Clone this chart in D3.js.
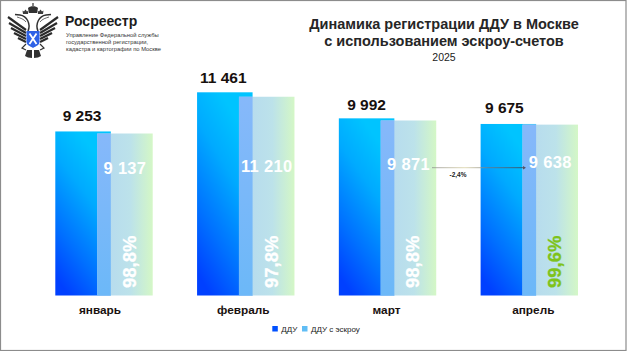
<!DOCTYPE html>
<html>
<head>
<meta charset="utf-8">
<script src="https://d3js.org/d3.v7.min.js"></script>
<style>
	html, body { margin: 0; padding: 0; background: #fff; }
	svg { display: block; font-family: 'Liberation Sans', Arial, sans-serif; }
</style>
</head>
<body>
<svg id="chart" width="627" height="351"></svg>
<script>
// NOTE chart values
const months = ['январь', 'февраль', 'март', 'апрель'];
const dduValues = [9253, 11461, 9992, 9675];
const escrowValues = [9137, 11210, 9871, 9638];
const escrowLabels = ['9 137', '11 210', '9 871', '9 638'];
const dduLabels = ['9 253', '11 461', '9 992', '9 675'];
const shareLabels = ['98,8%', '97,8%', '98,8%', '99,6%'];
const seriesNames = ['ДДУ', 'ДДУ с эскроу'];
const titleLines = ['Динамика регистрации ДДУ в Москве', 'с использованием эскроу-счетов'];
const changeLabel = '-2,4%';
const subtitle = '2025';
const orgLines = [
	'Управление Федеральной службы',
	'государственной регистрации,',
	'кадастра и картографии по Москве',
];

var svg = d3.select('#chart');
var defs = svg.append('defs');

var x = d3
	.scaleBand()
	.domain(months)
	.range([55.3, 578])
	.paddingInner(0.313)
	.paddingOuter(0);

var y = d3.scaleLinear().domain([0, 11461]).range([295.5, 92.3]);

var barWidth = x.bandwidth() * 0.57;
var escrowShift = x.bandwidth() - barWidth;
var overlapWidth = barWidth - escrowShift;

// NOTE gradients
var dduGrad = defs
	.append('linearGradient')
	.attr('id', 'ddu-grad')
	.attr('x1', 0.65)
	.attr('y1', 0.1)
	.attr('x2', 0.25)
	.attr('y2', 1);
dduGrad.append('stop').attr('offset', 0).attr('stop-color', '#00c4ff');
dduGrad.append('stop').attr('offset', 0.3).attr('stop-color', '#00aaff');
dduGrad.append('stop').attr('offset', 0.7).attr('stop-color', '#0070ff');
dduGrad.append('stop').attr('offset', 1).attr('stop-color', '#0040ff');

var escrowGrad = defs
	.append('linearGradient')
	.attr('id', 'escrow-grad')
	.attr('x1', 0)
	.attr('x2', 1)
	.attr('y1', 0)
	.attr('y2', 0);
[
	[0, '#b4d8f0'],
	[0.6, '#bce2ea'],
	[1, '#d4f7c6'],
].forEach(function (s) {
	escrowGrad.append('stop').attr('offset', s[0]).attr('stop-color', s[1]);
});

var overlapGrad = defs
	.append('linearGradient')
	.attr('id', 'overlap-grad')
	.attr('x1', 0)
	.attr('x2', 0)
	.attr('y1', 0)
	.attr('y2', 1);
overlapGrad.append('stop').attr('offset', 0).attr('stop-color', '#86b8fa');
overlapGrad.append('stop').attr('offset', 1).attr('stop-color', '#6cb8f8');

var blur = defs.append('filter').attr('id', 'soft');
blur.append('feGaussianBlur').attr('stdDeviation', 0.3);

// NOTE frame
svg
	.append('rect')
	.attr('x', 0.5)
	.attr('y', 0.5)
	.attr('width', 625.5)
	.attr('height', 350)
	.attr('fill', 'none')
	.attr('stroke', '#8c8c8c')
	.attr('stroke-width', 1.2);

// NOTE bars
svg
	.selectAll('.ddu')
	.data(months)
	.enter()
	.append('rect')
	.attr('class', 'ddu')
	.attr('x', (d) => x(d))
	.attr('y', (d, i) => y(dduValues[i]))
	.attr('width', barWidth)
	.attr('height', (d, i) => y(0) - y(dduValues[i]))
	.attr('fill', 'url(#ddu-grad)');

svg
	.selectAll('.escrow')
	.data(months)
	.enter()
	.append('rect')
	.attr('class', 'escrow')
	.attr('x', (d) => x(d) + escrowShift)
	.attr('y', (d, i) => y(escrowValues[i]))
	.attr('width', barWidth)
	.attr('height', (d, i) => y(0) - y(escrowValues[i]))
	.attr('fill', 'url(#escrow-grad)');

svg
	.selectAll('.overlap')
	.data(months)
	.enter()
	.append('rect')
	.attr('class', 'overlap')
	.attr('x', (d) => x(d) + escrowShift)
	.attr('y', (d, i) => y(escrowValues[i]))
	.attr('width', overlapWidth)
	.attr('height', (d, i) => y(0) - y(escrowValues[i]))
	.attr('fill', 'url(#overlap-grad)');

// NOTE value labels
const dduDx = [-1, -1.5, 0, -4];
const dduDy = [10, 9.5, 8, 11];
svg
	.selectAll('.ddu-label')
	.data(dduLabels)
	.enter()
	.append('text')
	.attr('class', 'ddu-label')
	.attr('x', (d, i) => x(months[i]) + barWidth / 2 + dduDx[i])
	.attr('y', (d, i) => y(dduValues[i]) - dduDy[i])
	.attr('text-anchor', 'middle')
	.attr('font-size', 15.5)
	.attr('font-weight', 'bold')
	.attr('fill', '#17100e')
	.text((d) => d);

const escrowY = [174, 172.3, 170, 167.7];
svg
	.selectAll('.escrow-label')
	.data(escrowLabels)
	.enter()
	.append('text')
	.attr('class', 'escrow-label')
	.attr('x', (d, i) => x(months[i]) + escrowShift + barWidth / 2)
	.attr('y', (d, i) => escrowY[i])
	.attr('text-anchor', 'middle')
	.attr('font-size', 16.5)
	.attr('font-weight', 'bold')
	.attr('letter-spacing', 0.3)
	.attr('fill', '#fff')
	.text((d) => d);

svg
	.selectAll('.share-label')
	.data(shareLabels)
	.enter()
	.append('text')
	.attr('class', 'share-label')
	.attr('transform', function (d, i) {
		var px = x(months[i]) + escrowShift + barWidth / 2 + 11;
		return 'translate(' + px + ',' + 288 + ') rotate(-90)';
	})
	.attr('font-size', 18.5)
	.attr('font-weight', 'bold')
	.attr('stroke', (d, i) => (i === 3 ? '#7ec31a' : '#fff'))
	.attr('stroke-width', 0.3)
	.attr('fill', (d, i) => (i === 3 ? '#7ec31a' : '#fff'))
	.text((d) => d);

// NOTE month labels
const monthDx = [-4, -2.5, -1, 4];
svg
	.selectAll('.month')
	.data(months)
	.enter()
	.append('text')
	.attr('class', 'month')
	.attr('x', (d, i) => x(d) + x.bandwidth() / 2 + monthDx[i])
	.attr('y', 314)
	.attr('text-anchor', 'middle')
	.attr('font-size', 11.8)
	.attr('font-weight', 'bold')
	.attr('fill', '#1a1210')
	.text((d) => d);

// NOTE change arrow between march and april
var arrowGrad = defs
	.append('linearGradient')
	.attr('id', 'arrow-grad')
	.attr('gradientUnits', 'userSpaceOnUse')
	.attr('x1', 432)
	.attr('x2', 526)
	.attr('y1', 0)
	.attr('y2', 0);
arrowGrad.append('stop').attr('offset', 0).attr('stop-color', '#888');
arrowGrad.append('stop').attr('offset', 0.35).attr('stop-color', '#d8d0a0');
arrowGrad.append('stop').attr('offset', 0.6).attr('stop-color', '#777');
arrowGrad.append('stop').attr('offset', 1).attr('stop-color', '#334');

var arrowY = 167.7;
svg
	.append('rect')
	.attr('x', 432)
	.attr('y', arrowY - 0.5)
	.attr('width', 93)
	.attr('height', 1)
	.attr('opacity', 0.75)
	.attr('fill', 'url(#arrow-grad)');
svg
	.append('path')
	.attr('d', 'M523,166L526,167.7L523,169.4Z')
	.attr('fill', '#556');
svg
	.append('text')
	.attr('x', 458)
	.attr('y', 177)
	.attr('text-anchor', 'middle')
	.attr('font-size', 6.5)
	.attr('font-weight', 'bold')
	.attr('fill', '#222')
	.text(changeLabel);

// NOTE legend
var legend = svg
	.selectAll('.legend')
	.data(seriesNames)
	.enter()
	.append('g')
	.attr('class', 'legend')
	.attr('transform', (d, i) => 'translate(' + [272.3, 302][i] + ',326)');
legend
	.append('rect')
	.attr('width', 5.5)
	.attr('height', 5.5)
	.attr('fill', (d, i) => ['#0050ff', '#60bdf5'][i]);
legend
	.append('text')
	.attr('x', 9)
	.attr('y', 5.7)
	.attr('font-size', 8)
	.attr('fill', '#222')
	.text((d) => d);

// NOTE title
svg
	.selectAll('.title')
	.data(titleLines)
	.enter()
	.append('text')
	.attr('class', 'title')
	.attr('x', 444)
	.attr('y', (d, i) => 29 + i * 16.7)
	.attr('text-anchor', 'middle')
	.attr('font-size', 14.5)
	.attr('font-weight', 'bold')
	.attr('fill', '#262626')
	.text((d) => d);
svg
	.append('text')
	.attr('x', 444)
	.attr('y', 60.7)
	.attr('text-anchor', 'middle')
	.attr('font-size', 10.5)
	.attr('fill', '#222')
	.text(subtitle);

// NOTE logo text
svg
	.append('text')
	.attr('x', 65)
	.attr('y', 26)
	.attr('font-size', 14)
	.attr('font-weight', 'bold')
	.attr('fill', '#1c1c1c')
	.text('Росреестр');
svg
	.selectAll('.org')
	.data(orgLines)
	.enter()
	.append('text')
	.attr('class', 'org')
	.attr('x', 66)
	.attr('y', (d, i) => 36.5 + i * 7.2)
	.attr('font-size', 5.8)
	.attr('fill', '#333')
	.text((d) => d);

// NOTE crest, mirrored halves around the shield
const feathers = [
	'M7,30L25,17',
	'M7,33L24,23',
	'M7,36L22,28',
	'M7,39L19,33',
	'M7,42L15,38',
];
var crest = svg
	.append('g')
	.attr('transform', 'translate(33,0)')
	.attr('filter', 'url(#soft)');
[1, -1].forEach(function (side) {
	var half = crest.append('g').attr('transform', 'scale(' + side + ',1)');
	half
		.selectAll('.feather')
		.data(feathers)
		.enter()
		.append('path')
		.attr('d', (d) => d)
		.attr('stroke', '#2b2b2b')
		.attr('stroke-width', 2.2)
		.attr('fill', 'none');
	// neck and head
	half
		.append('path')
		.attr('d', 'M5,31C2,24 6,16 13,15L18,14.5')
		.attr('stroke', '#333')
		.attr('stroke-width', 1.5)
		.attr('fill', 'none');
	half
		.append('path')
		.attr('d', 'M7,22C9,19 13,18 16,17')
		.attr('stroke', '#444')
		.attr('stroke-width', 0.8)
		.attr('fill', 'none');
	// legs
	half
		.append('path')
		.attr('d', 'M7,44L11,48L7,50')
		.attr('stroke', '#333')
		.attr('stroke-width', 1.2)
		.attr('fill', 'none');
	// tail
	half
		.append('path')
		.attr('d', 'M1,50L6,50L8,56L5,57.5L1,58Z')
		.attr('fill', '#333');
	// side crown
	half
		.append('path')
		.attr('d', 'M5,14L4.5,10.5L6,11.5L7.5,9.5L9,11.5L10.5,10.5L10,14Z')
		.attr('fill', '#3a3a3a');
});
// top crown
crest
	.append('path')
	.attr('d', 'M-4,13L-5,8C-3,5.5 3,5.5 5,8L4,13Z')
	.attr('fill', '#333');
crest
	.append('rect')
	.attr('x', -0.6)
	.attr('y', 3)
	.attr('width', 1.2)
	.attr('height', 3)
	.attr('fill', '#333');
// shield
crest
	.append('path')
	.attr('d', 'M-6.5,31L6.5,31L6.5,42C6.5,45 3,46 0,48C-3,46 -6.5,45 -6.5,42Z')
	.attr('fill', '#2e62e6');
crest
	.append('path')
	.attr('d', 'M-3.5,33.5L3.5,44M3.5,33.5L-3.5,44')
	.attr('stroke', '#fff')
	.attr('stroke-width', 1.8);
</script>
</body>
</html>
